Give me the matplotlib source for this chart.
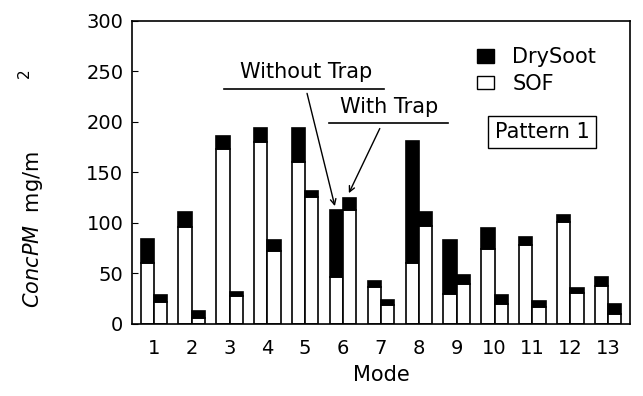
import numpy as np
import matplotlib.pyplot as plt
from matplotlib.patches import Patch

plt.rcParams['font.family'] = ['DejaVu Sans']

modes = np.arange(1, 14)
mode_labels = [str(m) for m in modes]

# mg/m^2
sof_without = [60, 96, 173, 180, 160, 46, 37, 60, 30, 74, 78, 101, 38]
soot_without = [24, 15, 13, 14, 34, 67, 6, 121, 53, 21, 8, 7, 8]
sof_with = [22, 6, 28, 72, 126, 113, 19, 97, 40, 20, 17, 31, 10]
soot_with = [7, 7, 4, 11, 6, 12, 5, 14, 8, 9, 6, 5, 10]

fig = plt.figure(figsize=(6.43, 3.96), dpi=100)
ax = fig.add_axes([0.205, 0.182, 0.775, 0.765])

w = 0.35
kw = dict(width=w, edgecolor='black', linewidth=1.2)
ax.bar(modes - w / 2, sof_without, color='white', **kw)
ax.bar(modes - w / 2, soot_without, bottom=sof_without, color='black', **kw)
ax.bar(modes + w / 2, sof_with, color='white', **kw)
ax.bar(modes + w / 2, soot_with, bottom=sof_with, color='black', **kw)

ax.set_xlim(0.42, 13.58)
ax.set_ylim(0, 300)
ax.set_yticks(range(0, 301, 50))
ax.set_xticks(modes)
ax.set_xticklabels(mode_labels)
ax.tick_params(axis='y', direction='in', length=4, labelsize=14, pad=6)
ax.tick_params(axis='x', length=0, labelsize=14, pad=11)
for s in ax.spines.values():
    s.set_linewidth(1.2)

ax.set_xlabel('Mode', fontsize=15, labelpad=5)
fig.text(0.052, 0.42, r'$\it{ConcPM}$  mg/m', rotation=90, fontsize=15,
         ha='center', va='center')
fig.text(0.038, 0.815, '2', rotation=90, fontsize=11, ha='center', va='center')

# annotations
ax.text(5.03, 249, 'Without Trap', fontsize=15, ha='center', va='center')
ax.plot([2.85, 7.09], [233, 233], color='black', lw=1.2)
ax.annotate('', xy=(5.8, 114), xytext=(5.03, 231),
            arrowprops=dict(arrowstyle='->', color='black', lw=1.0))
ax.text(7.22, 215, 'With Trap', fontsize=15, ha='center', va='center')
ax.plot([5.64, 8.76], [199, 199], color='black', lw=1.2)
ax.annotate('', xy=(6.12, 127), xytext=(7.0, 196),
            arrowprops=dict(arrowstyle='->', color='black', lw=1.0))

ax.text(11.25, 190, 'Pattern 1', fontsize=15, ha='center', va='center',
        bbox=dict(boxstyle='square,pad=0.3', fc='white', ec='black', lw=1.0))

handles = [Patch(facecolor='black', edgecolor='black', label='DrySoot'),
           Patch(facecolor='white', edgecolor='black', label='SOF')]
ax.legend(handles=handles, loc='upper left', bbox_to_anchor=(0.655, 0.975),
          frameon=False, fontsize=15, handlelength=0.8, handleheight=0.6,
          labelspacing=0.3, handletextpad=0.9)

fig.savefig('out.png', dpi=100)
